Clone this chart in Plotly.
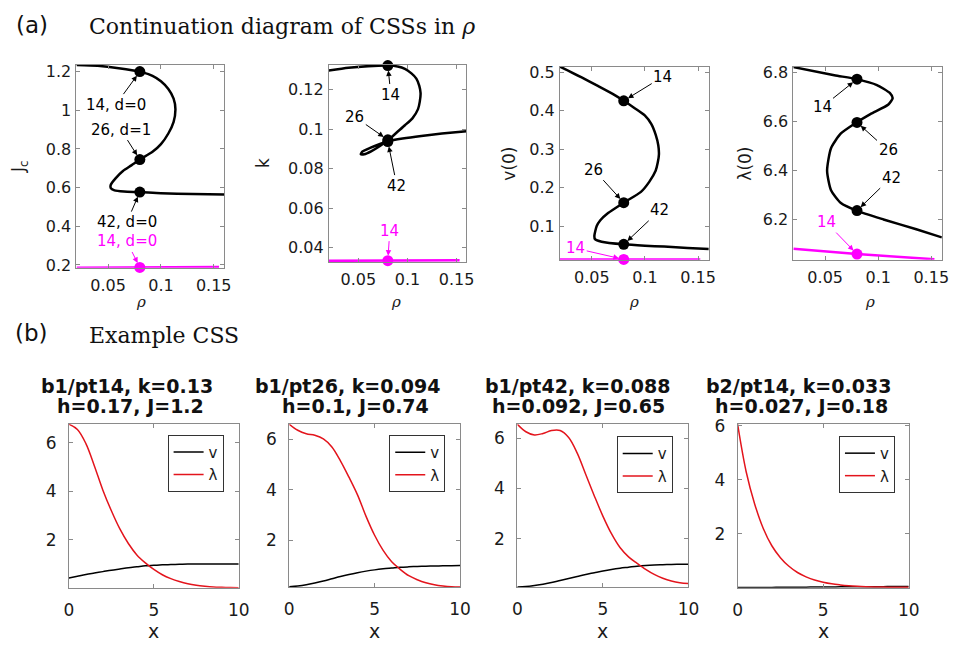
import plotly.graph_objects as go

W, H = 962, 651

# ---------------- (a) continuation diagram data ----------------
# branch b1 (black), parametric (rho, value)
rho_J = [0.020, 0.040, 0.060, 0.080, 0.092, 0.100, 0.107, 0.112, 0.1137, 0.112, 0.107, 0.100,
         0.092, 0.080, 0.072, 0.064, 0.057, 0.0525, 0.0525, 0.056, 0.065, 0.080, 0.100, 0.130, 0.160]
Jc_b1 = [1.234, 1.230, 1.218, 1.200, 1.178, 1.150, 1.110, 1.060, 1.006, 0.940, 0.880, 0.825,
         0.785, 0.745, 0.715, 0.686, 0.648, 0.615, 0.598, 0.586, 0.580, 0.577, 0.571, 0.567, 0.565]
rho_J_b2 = [0.020, 0.080, 0.155]
Jc_b2 = [0.186, 0.187, 0.190]

rho_k = [0.020, 0.040, 0.060, 0.0807, 0.090, 0.0974, 0.104, 0.109, 0.112, 0.1133, 0.1125, 0.1107,
         0.105, 0.0974, 0.089, 0.0807, 0.072, 0.063, 0.056, 0.0525, 0.054, 0.062, 0.072, 0.0807,
         0.095, 0.114, 0.135, 0.160]
k_b1 = [0.1298, 0.1312, 0.1320, 0.1323, 0.1318, 0.1306, 0.1283, 0.1257, 0.1220, 0.1183, 0.1140, 0.1102,
        0.1055, 0.1020, 0.0983, 0.0946, 0.0915, 0.0888, 0.0873, 0.0873, 0.0886, 0.0905, 0.0925, 0.0940,
        0.0953, 0.0966, 0.0978, 0.0990]
rho_k_b2 = [0.020, 0.080, 0.153]
k_b2 = [0.0332, 0.0333, 0.0335]

rho_v = [0.020, 0.040, 0.0561, 0.070, 0.0801, 0.090, 0.0998, 0.106, 0.1101, 0.1125, 0.1131, 0.112,
         0.110, 0.104, 0.0962, 0.0801, 0.0653, 0.058, 0.0546, 0.0524, 0.053, 0.0592, 0.0801, 0.100,
         0.118, 0.140, 0.160]
v0_b1 = [0.5145, 0.487, 0.4637, 0.443, 0.4256, 0.407, 0.3876, 0.365, 0.337, 0.310, 0.286, 0.265,
         0.2437, 0.215, 0.189, 0.161, 0.1338, 0.115, 0.100, 0.0746, 0.066, 0.0594, 0.0525, 0.049,
         0.0467, 0.043, 0.0406]
rho_v_b2 = [0.020, 0.080, 0.152]
v0_b2 = [0.0135, 0.0135, 0.0135]

rho_l = [0.020, 0.0586, 0.0796, 0.0988, 0.1111, 0.1136, 0.1096, 0.0926, 0.0796, 0.0648, 0.0555,
         0.0518, 0.0555, 0.0648, 0.0796, 0.105, 0.1359, 0.160]
lam0_b1 = [6.820, 6.787, 6.771, 6.747, 6.714, 6.694, 6.668, 6.629, 6.595, 6.550, 6.490,
           6.398, 6.319, 6.267, 6.236, 6.200, 6.160, 6.127]
rho_l_b2 = [0.020, 0.080, 0.153]
lam0_b2 = [6.081, 6.059, 6.038]

# labelled points (pt14, pt26, pt42 on b1; pt14 on b2)
rho_pt = 0.08
J_pts, J_pt2 = [1.200, 0.745, 0.577], 0.187
k_pts, k_pt2 = [0.1323, 0.0946, 0.0937], 0.0333
v_pts, v_pt2 = [0.4256, 0.161, 0.0525], 0.0135
l_pts, l_pt2 = [6.771, 6.595, 6.236], 6.059
pt_names = ['14', '26', '42']
pt_name2 = '14'
J_pt_text = ['14, d=0', '26, d=1', '42, d=0']
J_pt2_text = '14, d=0'

# ---------------- (b) example CSS profiles ----------------
x_prof = [0, 0.5, 1, 1.5, 2, 2.5, 3, 3.5, 4, 4.5, 5, 5.5, 6, 6.5, 7, 7.5, 8, 8.5, 9, 9.5, 10]
v_pt14 = [0.43, 0.50, 0.57, 0.63, 0.69, 0.75, 0.80, 0.85, 0.89, 0.93, 0.95, 0.97, 0.98, 0.99, 1.0,
          1.0, 1.0, 1.0, 1.0, 1.0, 1.0]
lam_pt14 = [6.77, 6.55, 5.97, 5.05, 4.05, 3.20, 2.45, 1.85, 1.38, 1.05, 0.78, 0.56, 0.40, 0.28, 0.19,
            0.13, 0.09, 0.06, 0.045, 0.035, 0.03]
v_pt26 = [0.16, 0.19, 0.24, 0.31, 0.39, 0.48, 0.57, 0.65, 0.72, 0.78, 0.83, 0.87, 0.90, 0.93, 0.95,
          0.965, 0.975, 0.985, 0.99, 0.995, 1.0]
lam_pt26 = [6.60, 6.36, 6.22, 6.16, 6.02, 5.70, 5.15, 4.50, 3.80, 2.95, 2.20, 1.60, 1.15, 0.85, 0.60,
            0.44, 0.32, 0.24, 0.19, 0.16, 0.15]
v_pt42 = [0.08, 0.10, 0.14, 0.19, 0.26, 0.34, 0.42, 0.50, 0.58, 0.65, 0.72, 0.78, 0.83, 0.87, 0.91,
          0.94, 0.96, 0.97, 0.98, 0.985, 0.99]
lam_pt42 = [6.55, 6.25, 6.12, 6.18, 6.30, 6.30, 6.02, 5.40, 4.55, 3.70, 2.90, 2.20, 1.65, 1.28, 1.02,
            0.78, 0.58, 0.43, 0.32, 0.25, 0.22]
v_b2pt14 = [0.012, 0.013, 0.015, 0.017, 0.019, 0.021, 0.023, 0.026, 0.028, 0.031, 0.033, 0.036, 0.038,
            0.040, 0.042, 0.044, 0.046, 0.047, 0.048, 0.049, 0.050]
lam_b2pt14 = [6.06, 4.30, 3.10, 2.20, 1.56, 1.12, 0.80, 0.57, 0.41, 0.29, 0.21, 0.15, 0.11, 0.08, 0.06,
              0.045, 0.035, 0.03, 0.025, 0.02, 0.02]

titles_b = [("b1/pt14, k=0.13", "h=0.17, J=1.2"),
            ("b1/pt26, k=0.094", "h=0.1, J=0.74"),
            ("b1/pt42, k=0.088", "h=0.092, J=0.65"),
            ("b2/pt14, k=0.033", "h=0.027, J=0.18")]

# ---------------- layout helpers ----------------
SANS = "DejaVu Sans"
SERIF = "DejaVu Serif"
BLACK = "black"
MAG = "#ff00ff"
RED = "#e3141c"
AXC = "#8a8a8a"

# pixel boxes: (left, right, top, bottom)
boxes_top = [(72.7, 223.0, 58.0, 266.0), (329.3, 469.3, 58.3, 260.0),
             (564.3, 715.7, 60.0, 257.7), (801.7, 952.7, 60.0, 257.7)]
boxes_bot = [(65.0, 237.7, 426.0, 593.3), (289.0, 462.7, 426.0, 592.7),
             (521.0, 695.0, 426.0, 592.7), (745.0, 919.0, 426.0, 593.3)]


def dom(b):
    l, r, t, bt = b
    return [l / W, r / W], [1 - bt / H, 1 - t / H]


def ptext(px, py, text, font, xanchor="center", angle=0):
    return dict(x=px / W, y=1 - py / H, xref="paper", yref="paper", text=text,
                showarrow=False, xanchor=xanchor, yanchor="middle", textangle=angle, font=font)


fig = go.Figure()
layout = dict(width=W, height=H, margin=dict(l=0, r=0, t=0, b=0),
              paper_bgcolor="white", plot_bgcolor="white", showlegend=True)
annotations = []


def axis_style(domain, rng, tickvals, size, anchor, standoff=0):
    return dict(domain=domain, range=rng, tickvals=tickvals, showline=True, linecolor=AXC,
                linewidth=1, mirror="allticks", ticks="inside", ticklen=4, tickcolor=AXC,
                showgrid=False, zeroline=False, anchor=anchor, ticklabelstandoff=standoff,
                tickfont=dict(family=SANS, size=size, color="#1a1a1a"))


top_sets = [
    (rho_J, Jc_b1, rho_J_b2, Jc_b2, J_pts, J_pt2, [0.185, 1.236], [0.2, 0.4, 0.6, 0.8, 1.0, 1.2],
     "J<sub>c</sub>", J_pt_text, J_pt2_text,
     [(-24, 33), (-19, -30), (-13, 30)], (-13, -26)),
    (rho_k, k_b1, rho_k_b2, k_b2, k_pts, k_pt2, [0.0326, 0.1326], [0.04, 0.06, 0.08, 0.1, 0.12],
     "k", pt_names, pt_name2,
     [(3, 29), (-33, -23), (9, 44)], (2, -30)),
    (rho_v, v0_b1, rho_v_b2, v0_b2, v_pts, v_pt2, [0.0125, 0.5145], [0.1, 0.2, 0.3, 0.4, 0.5],
     "v(0)", pt_names, pt_name2,
     [(39, -24), (-30, -33), (36, -34)], (-48, -11)),
    (rho_l, lam0_b1, rho_l_b2, lam0_b2, l_pts, l_pt2, [6.036, 6.822], [6.2, 6.4, 6.6, 6.8],
     "λ(0)", pt_names, pt_name2,
     [(-35, 28), (31, 28), (34, -33)], (-31, -32)),
]
ylab_x = [15, 263, 513, 753]
rho_lab_x = [138, 398, 640, 880]

for i, (rx, ry, rx2, ry2, pts, pt2, yr, yt, ylab, ptxt, ptxt2, offs, off2) in enumerate(top_sets):
    n = i + 1
    xa, ya = ("x", "y") if n == 1 else (f"x{n}", f"y{n}")
    xd, yd = dom(boxes_top[i])
    layout["xaxis" if n == 1 else f"xaxis{n}"] = axis_style(xd, [0.02, 0.16], [0.05, 0.1, 0.15], 16, ya, 3)
    layout["yaxis" if n == 1 else f"yaxis{n}"] = axis_style(yd, yr, yt, 16, xa, 1)
    fig.add_trace(go.Scatter(x=rx2, y=ry2, mode="lines", line=dict(color=MAG, width=2.5),
                             xaxis=xa, yaxis=ya, showlegend=False, hoverinfo="skip"))
    fig.add_trace(go.Scatter(x=rx, y=ry, mode="lines",
                             line=dict(color=BLACK, width=2.5, shape="spline", smoothing=0.6),
                             xaxis=xa, yaxis=ya, showlegend=False, hoverinfo="skip"))
    fig.add_trace(go.Scatter(x=[rho_pt] * len(pts), y=pts, mode="markers",
                             marker=dict(color=BLACK, size=11), cliponaxis=False,
                             xaxis=xa, yaxis=ya, showlegend=False))
    fig.add_trace(go.Scatter(x=[rho_pt], y=[pt2], mode="markers",
                             marker=dict(color=MAG, size=11), cliponaxis=False,
                             xaxis=xa, yaxis=ya, showlegend=False))
    for val, txt, (dx, dy) in zip(pts, ptxt, offs):
        annotations.append(dict(x=rho_pt, y=val, xref=xa, yref=ya, text=txt, showarrow=True,
                                ax=dx, ay=dy, arrowhead=2, arrowsize=1.1, arrowwidth=1,
                                arrowcolor=BLACK, standoff=5,
                                font=dict(family=SANS, size=15, color=BLACK)))
    annotations.append(dict(x=rho_pt, y=pt2, xref=xa, yref=ya, text=ptxt2, showarrow=True,
                            ax=off2[0], ay=off2[1], arrowhead=2, arrowsize=1.1, arrowwidth=1,
                            arrowcolor=MAG, standoff=5,
                            font=dict(family=SANS, size=15, color=MAG)))
    l, r, t, b = boxes_top[i]
    annotations.append(ptext(ylab_x[i], (t + b) / 2, ylab,
                             dict(family=SANS, size=17, color="#1a1a1a"), angle=-90))
    annotations.append(ptext(rho_lab_x[i], 301, "<i>ρ</i>",
                             dict(family=SERIF, size=15, color="#1a1a1a")))

bot_sets = [(v_pt14, lam_pt14, [0.03, 6.77]), (v_pt26, lam_pt26, [0.15, 6.6]),
            (v_pt42, lam_pt42, [0.08, 6.55]), (v_b2pt14, lam_b2pt14, [0.01, 6.06])]
title_cx = [(124, 128), (348, 356), (582, 583), (807, 810)]
legend_pos = [(222.3, 436.7), (447.7, 437.0), (679.0, 438.3), (905.0, 438.0)]

for j, (vv, ll, yr) in enumerate(bot_sets):
    n = j + 5
    xa, ya = f"x{n}", f"y{n}"
    xd, yd = dom(boxes_bot[j])
    layout[f"xaxis{n}"] = axis_style(xd, [0, 10], [0, 5, 10], 17, ya, 7)
    layout[f"yaxis{n}"] = axis_style(yd, yr, [2, 4, 6], 17, xa, 8)
    lg = "legend" if j == 0 else f"legend{j + 1}"
    fig.add_trace(go.Scatter(x=x_prof, y=vv, mode="lines", name="v",
                             line=dict(color=BLACK, width=1.5, shape="spline"),
                             xaxis=xa, yaxis=ya, legend=lg))
    fig.add_trace(go.Scatter(x=x_prof, y=ll, mode="lines", name="λ",
                             line=dict(color=RED, width=1.5, shape="spline"),
                             xaxis=xa, yaxis=ya, legend=lg))
    lx, ly = legend_pos[j]
    layout[lg] = dict(x=lx / W, y=1 - ly / H, xanchor="right", yanchor="top",
                      bordercolor="#333333", borderwidth=1, bgcolor="white",
                      font=dict(family=SANS, size=15, color="#1a1a1a"),
                      tracegroupgap=0, itemwidth=30)
    l, r, t, b = boxes_bot[j]
    tfont = dict(family=SANS, size=19, color="#111111")
    annotations.append(ptext(title_cx[j][0], 387, "<b>" + titles_b[j][0] + "</b>", tfont))
    annotations.append(ptext(title_cx[j][1], 407, "<b>" + titles_b[j][1] + "</b>", tfont))
    annotations.append(ptext((l + r) / 2, 638, "x", dict(family=SANS, size=19, color="#1a1a1a")))

# panel labels and headings
annotations.append(ptext(27, 17, "(a)", dict(family=SANS, size=23, color="#111111")))
annotations.append(ptext(83, 19, "Continuation diagram of CSSs in <i>ρ</i>",
                         dict(family=SERIF, size=22, color="#111111"), xanchor="left"))
annotations.append(ptext(27, 333, "(b)", dict(family=SANS, size=23, color="#111111")))
annotations.append(ptext(83, 335, "Example CSS",
                         dict(family=SERIF, size=22, color="#111111"), xanchor="left"))

layout["annotations"] = annotations
fig.update_layout(**layout)
fig.write_html("out.html")
